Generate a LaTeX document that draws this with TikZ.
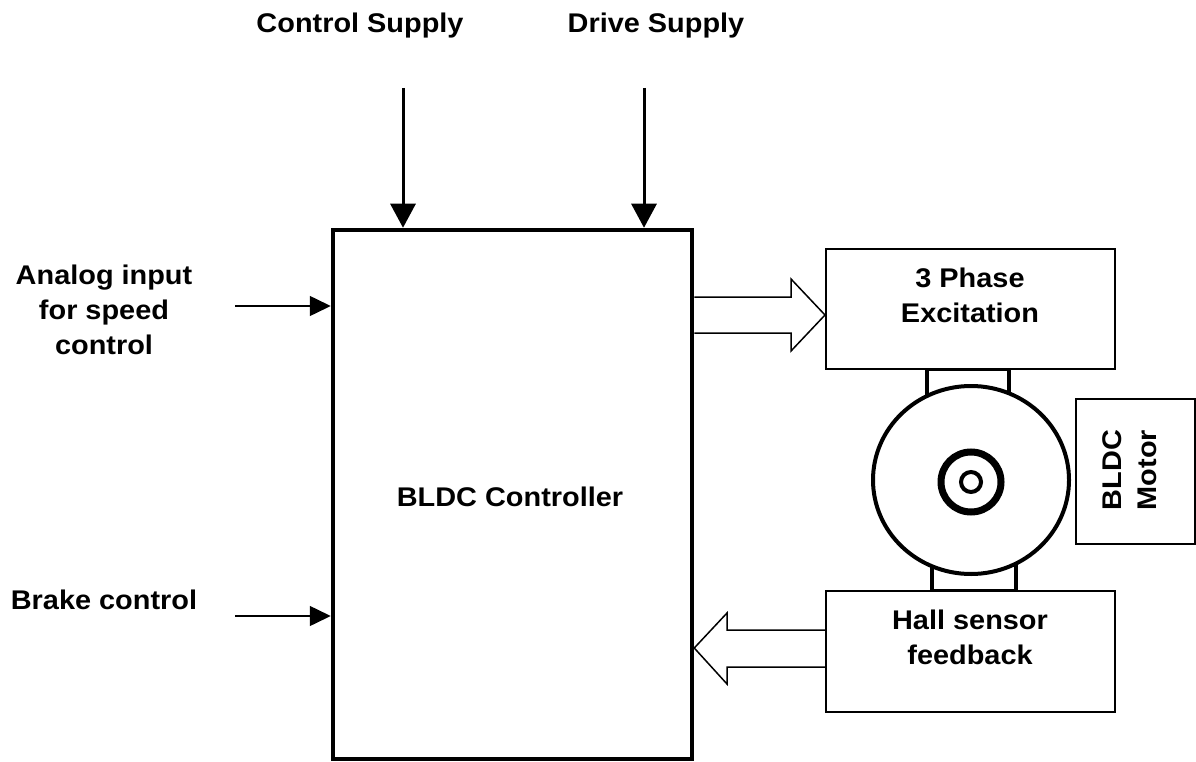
\documentclass[tikz,border=0pt]{standalone}
\usepackage{fontspec}
\setmainfont{Liberation Sans}[FakeStretch=1.07]
\usetikzlibrary{arrows.meta}
\usetikzlibrary{shapes.geometric}

\tikzset{
  lbl/.style={font=\bfseries\fontsize{27}{35}\selectfont, align=center, inner sep=0pt},
  blockbox/.style={draw, line width=2pt, inner sep=0pt},
  supplyarrow/.style={line width=3pt, -{Triangle[length=24pt,width=25pt]}},
  inarrow/.style={line width=1.5pt, -{Triangle[length=21pt,width=20pt]}},
  hollow/.style={line width=1.5pt, line join=miter},
  mount/.style={line width=3.5pt}
}

\begin{document}
\begin{tikzpicture}[x=1pt,y=-1pt]
        \useasboundingbox (0,0) rectangle (1196,762);

        % controller
        \node[draw, line width=4.5pt, minimum width=359pt, minimum height=529pt] (ctrl) at (512.5,494.5) {};
        \node[lbl] (ctrltxt) at (510,497) {BLDC Controller};

        % supplies
        \node[lbl] (csup) at (360,26) {Control Supply};
        \node[lbl] (dsup) at (656,26) {Drive Supply};
        \coordinate (csin) at (403,88);
        \coordinate (dsin) at (644,88);
        \draw[supplyarrow] (csin) -- (csin |- ctrl.north);
        \draw[supplyarrow] (dsin) -- (dsin |- ctrl.north);

        % inputs on the left
        \node[lbl] (analog) at (104,310) {Analog input\\for speed\\control};
        \node[lbl] (brake) at (104,600) {Brake control};
        \coordinate (ain) at (235,306);
        \coordinate (bin) at (235,616);
        \draw[inarrow] (ain) -- (ain -| ctrl.west);
        \draw[inarrow] (bin) -- (bin -| ctrl.west);

        % motor with its mounts
        \draw[mount] (927,369) rectangle (1009,420);
        \draw[mount] (932,540) rectangle (1016,591);
        \node[ellipse, draw, fill=white, line width=4pt, minimum width=196pt, minimum height=188pt] (motor) at (971,480) {};
        \node[circle, draw, line width=7pt, minimum size=60pt, inner sep=0pt] (rotor) at (971,482) {};
        \node[circle, draw, line width=4pt, minimum size=20pt, inner sep=0pt] (shaft) at (971,482) {};

        \node[draw, line width=1.5pt, minimum width=119pt, minimum height=145pt] (mbox) at (1135.5,471.5) {};
        \node[lbl, rotate=90] (mtxt) at (1130,470) {BLDC\\Motor};

        % phase and hall boxes
        \node[blockbox, fill=white, minimum width=289pt, minimum height=120pt] (phase) at (970.5,309) {};
        \node[lbl] (phasetxt) at (970,295) {3 Phase\\Excitation};
        \node[blockbox, fill=white, minimum width=289pt, minimum height=121pt] (hall) at (970.5,651.5) {};
        \node[lbl] (halltxt) at (970,637) {Hall sensor\\feedback};

        % wide arrows
        \coordinate (phin) at (phase.west |- 0,315);
        \coordinate (hallout) at (ctrl.east |- 0,648);
        \draw[hollow] (ctrl.east |- 0,297) -- (791,297) -- (791,279) -- (phin) -- (791,351) -- (791,333) -- (ctrl.east |- 0,333);
        \draw[hollow] (hall.west |- 0,630) -- (727,630) -- (727,613) -- (hallout) -- (727,684) -- (727,667) -- (hall.west |- 0,667);
\end{tikzpicture}
\end{document}
